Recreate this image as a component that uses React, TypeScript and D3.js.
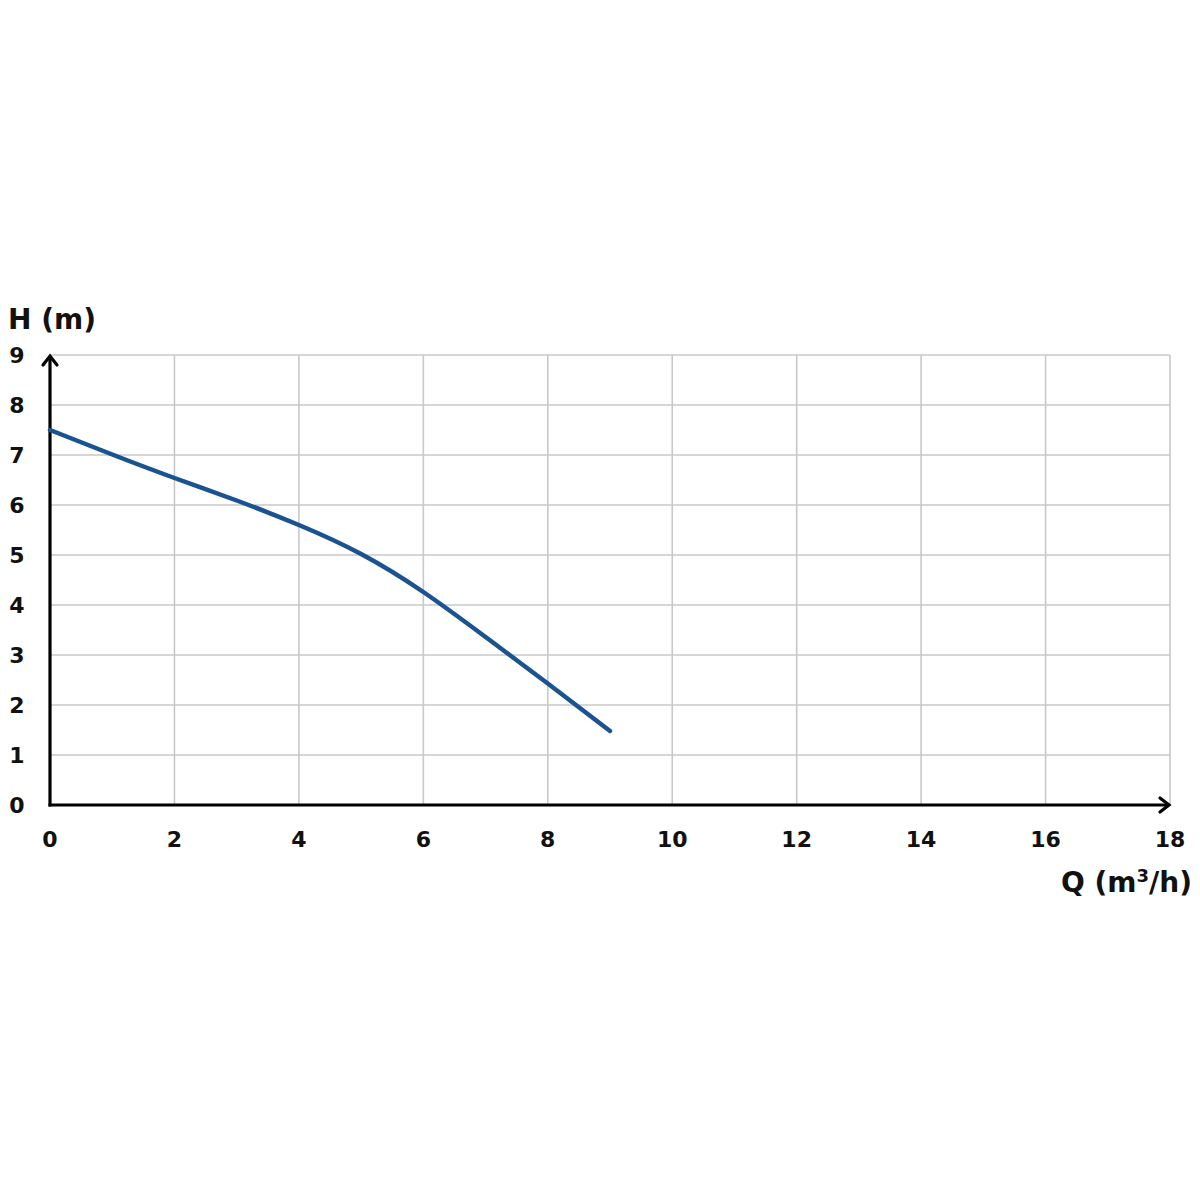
import React from "react";
import * as d3 from "d3";

const flowQ = [0, 1, 2, 3, 4, 5, 6, 7, 8, 9];
const headH = [7.5, 7.01, 6.54, 6.09, 5.6, 5.02, 4.26, 3.36, 2.43, 1.48];
const xTicks = [0, 2, 4, 6, 8, 10, 12, 14, 16, 18];
const yTicks = [0, 1, 2, 3, 4, 5, 6, 7, 8, 9];
const xLabel = "Q (m";
const yLabel = "H (m)";

export default function App() {
  const W = 1200, H = 1200;
  const x = d3.scaleLinear().domain([0, 18]).range([50, 1170]);
  const y = d3.scaleLinear().domain([0, 9]).range([805, 355]);
  const line = d3
    .line<number>()
    .x((_, i) => x(flowQ[i]))
    .y((d) => y(d))
    .curve(d3.curveNatural);
  const font = "'DejaVu Sans', 'Open Sans', sans-serif";
  return (
    <svg
      width={W}
      height={H}
      style={{ position: "absolute", left: 0, top: 0, background: "#fff" }}
      fontFamily={font}
      fontWeight={700}
    >
      <rect width={W} height={H} fill="#fff" />
      {xTicks.slice(1).map((t) => (
        <line key={"gx" + t} x1={x(t)} x2={x(t)} y1={y(9)} y2={y(0)} stroke="#c8c8c8" strokeWidth={1.6} />
      ))}
      {yTicks.slice(1).map((t) => (
        <line key={"gy" + t} x1={x(0)} x2={x(18)} y1={y(t)} y2={y(t)} stroke="#c8c8c8" strokeWidth={1.6} />
      ))}
      <line x1={x(0)} x2={x(0)} y1={y(0) + 1.5} y2={y(9) + 2} stroke="#000" strokeWidth={3.2} />
      <line x1={x(0) - 1.5} x2={x(18) - 1} y1={y(0)} y2={y(0)} stroke="#000" strokeWidth={3.2} />
      <polyline
        points={`${x(0) - 7},${y(9) + 10} ${x(0)},${y(9) + 1} ${x(0) + 7},${y(9) + 10}`}
        fill="none"
        stroke="#000"
        strokeWidth={3.2}
        strokeLinecap="round"
      />
      <polyline
        points={`${x(18) - 10},${y(0) - 7} ${x(18) - 1},${y(0)} ${x(18) - 10},${y(0) + 7}`}
        fill="none"
        stroke="#000"
        strokeWidth={3.2}
        strokeLinecap="round"
      />
      <path d={line(headH) || ""} fill="none" stroke="#1b5390" strokeWidth={4.5} strokeLinecap="round" />
      {xTicks.map((t) => (
        <text key={"tx" + t} x={x(t)} y={847} fontSize={22} textAnchor="middle" fill="#111">
          {t}
        </text>
      ))}
      {yTicks.map((t) => (
        <text key={"ty" + t} x={17} y={y(t) + 8} fontSize={22} textAnchor="middle" fill="#111">
          {t}
        </text>
      ))}
      <text x={8} y={329} fontSize={28} fill="#111">
        {yLabel}
      </text>
      <text x={1192} y={892} fontSize={28} fill="#111" textAnchor="end">
        {xLabel}
        <tspan dy={-10} fontSize={18}>3</tspan>
        <tspan dy={10}>/h)</tspan>
      </text>
    </svg>
  );
}
